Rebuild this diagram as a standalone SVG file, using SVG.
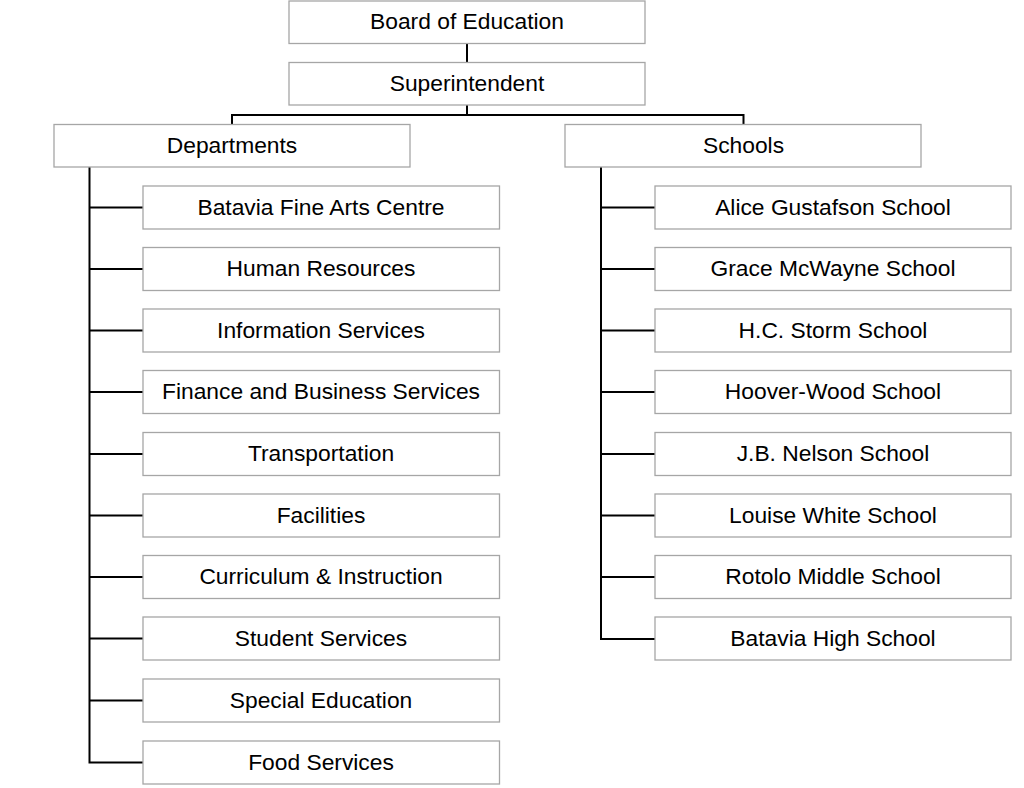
<svg xmlns="http://www.w3.org/2000/svg" width="1024" height="788" viewBox="0 0 1024 788">
<style>
.box{fill:#fff;stroke:#a6a6a6;stroke-width:1.3}
.lbl{font-family:"Liberation Sans",Arial,sans-serif;font-size:22.8px;fill:#000;text-anchor:middle;dominant-baseline:central}
.con{fill:none;stroke:#000;stroke-width:2}
</style>
<rect width="1024" height="788" fill="#fff"/>
<g id="connectors">
<path class="con" d="M467 43.5V63"/>
<path class="con" d="M467 105V115H232V124M467 115H743.5V124"/>
<path class="con" d="M89.5 167V762.5H143"/>
<path class="con" d="M89.5 207.5H143M89.5 269H143M89.5 330.5H143M89.5 392H143M89.5 454H143M89.5 515.5H143M89.5 577H143M89.5 638.5H143M89.5 700.5H143"/>
<path class="con" d="M601 167V639H655"/>
<path class="con" d="M601 207.5H655M601 269H655M601 330.5H655M601 392H655M601 454H655M601 515.5H655M601 577H655"/>
</g>
<g id="board"><rect class="box" x="289" y="1" width="356" height="42.5"/><text class="lbl" x="467" y="21">Board of Education</text></g>
<g id="superintendent"><rect class="box" x="289" y="62.5" width="356" height="42.5"/><text class="lbl" x="467" y="83">Superintendent</text></g>
<g id="departments"><rect class="box" x="54" y="124.5" width="356" height="42.5"/><text class="lbl" x="232" y="145">Departments</text></g>
<g id="schools"><rect class="box" x="565" y="124.5" width="356" height="42.5"/><text class="lbl" x="743.5" y="145">Schools</text></g>
<g id="d1"><rect class="box" x="143" y="186" width="356.5" height="43"/><text class="lbl" x="321" y="206.5">Batavia Fine Arts Centre</text></g>
<g id="d2"><rect class="box" x="143" y="247.5" width="356.5" height="43"/><text class="lbl" x="321" y="268">Human Resources</text></g>
<g id="d3"><rect class="box" x="143" y="309" width="356.5" height="43"/><text class="lbl" x="321" y="329.5">Information Services</text></g>
<g id="d4"><rect class="box" x="143" y="370.5" width="356.5" height="43"/><text class="lbl" x="321" y="391">Finance and Business Services</text></g>
<g id="d5"><rect class="box" x="143" y="432.5" width="356.5" height="43"/><text class="lbl" x="321" y="453">Transportation</text></g>
<g id="d6"><rect class="box" x="143" y="494" width="356.5" height="43"/><text class="lbl" x="321" y="514.5">Facilities</text></g>
<g id="d7"><rect class="box" x="143" y="555.5" width="356.5" height="43"/><text class="lbl" x="321" y="576">Curriculum &amp; Instruction</text></g>
<g id="d8"><rect class="box" x="143" y="617" width="356.5" height="43"/><text class="lbl" x="321" y="637.5">Student Services</text></g>
<g id="d9"><rect class="box" x="143" y="679" width="356.5" height="43"/><text class="lbl" x="321" y="699.5">Special Education</text></g>
<g id="d10"><rect class="box" x="143" y="741" width="356.5" height="43"/><text class="lbl" x="321" y="761.5">Food Services</text></g>
<g id="s1"><rect class="box" x="655" y="186" width="356" height="43"/><text class="lbl" x="833" y="206.5">Alice Gustafson School</text></g>
<g id="s2"><rect class="box" x="655" y="247.5" width="356" height="43"/><text class="lbl" x="833" y="268">Grace McWayne School</text></g>
<g id="s3"><rect class="box" x="655" y="309" width="356" height="43"/><text class="lbl" x="833" y="329.5">H.C. Storm School</text></g>
<g id="s4"><rect class="box" x="655" y="370.5" width="356" height="43"/><text class="lbl" x="833" y="391">Hoover-Wood School</text></g>
<g id="s5"><rect class="box" x="655" y="432.5" width="356" height="43"/><text class="lbl" x="833" y="453">J.B. Nelson School</text></g>
<g id="s6"><rect class="box" x="655" y="494" width="356" height="43"/><text class="lbl" x="833" y="514.5">Louise White School</text></g>
<g id="s7"><rect class="box" x="655" y="555.5" width="356" height="43"/><text class="lbl" x="833" y="576">Rotolo Middle School</text></g>
<g id="s8"><rect class="box" x="655" y="617" width="356" height="43"/><text class="lbl" x="833" y="637.5">Batavia High School</text></g>
</svg>
